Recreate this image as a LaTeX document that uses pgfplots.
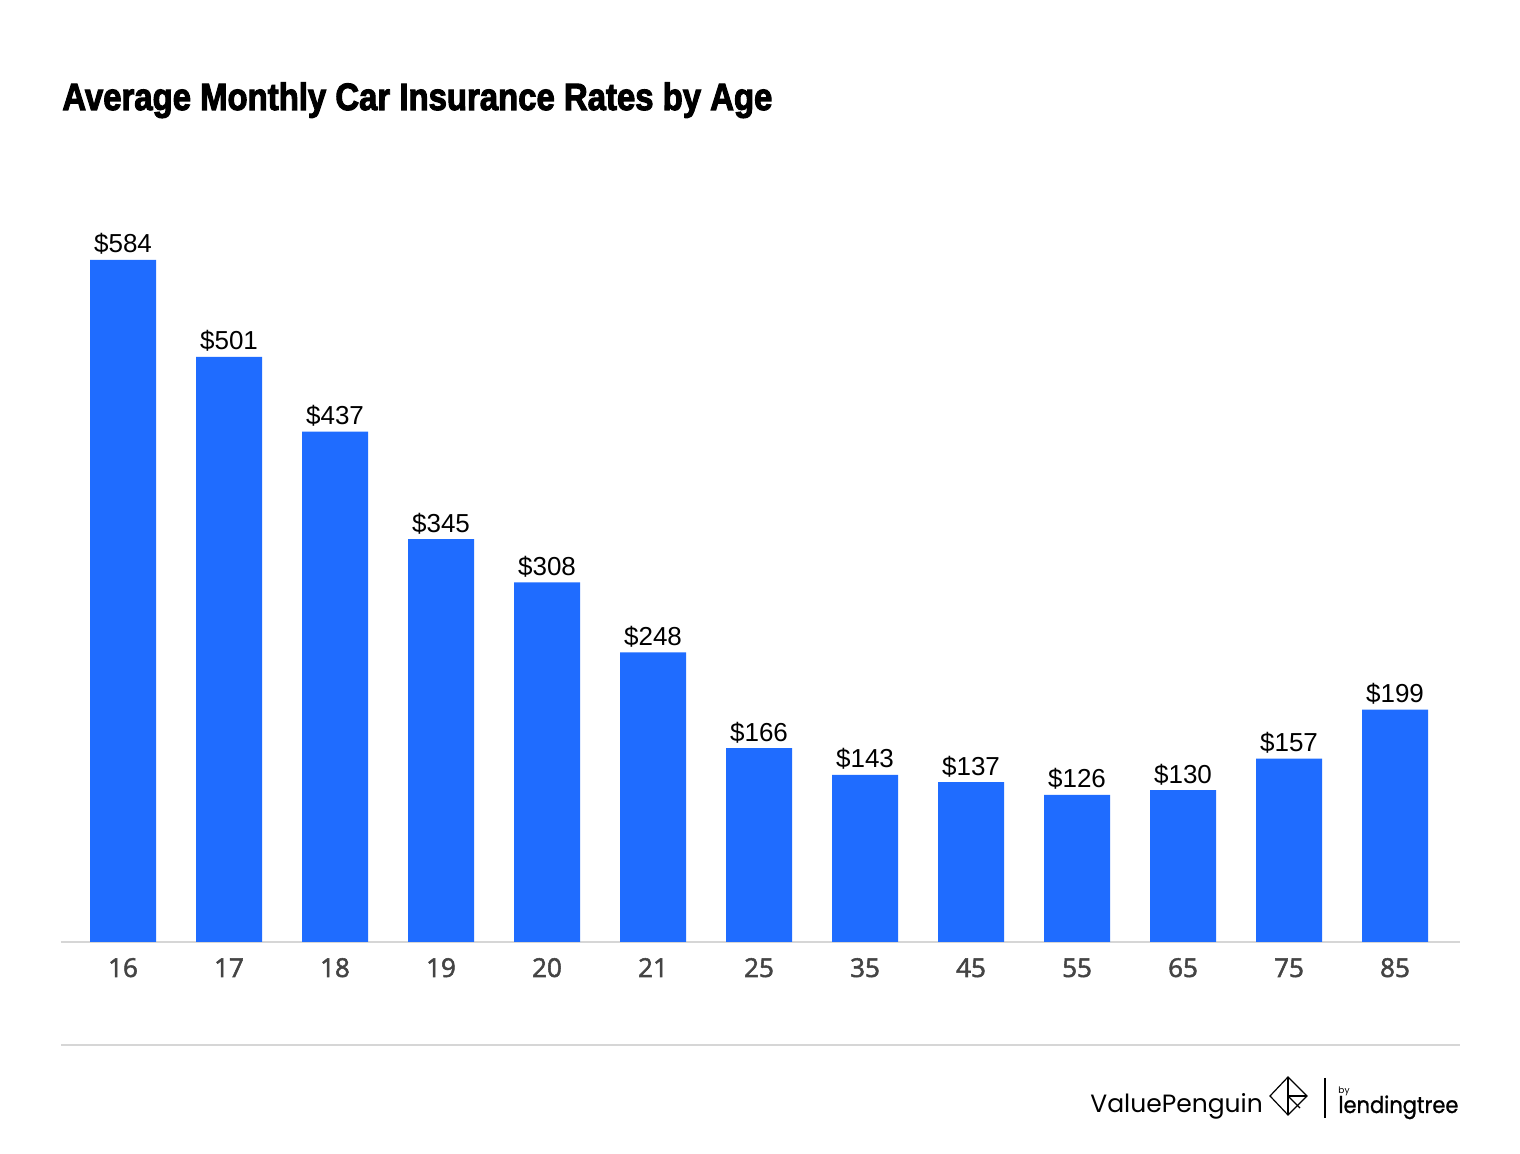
\documentclass[border=0pt]{standalone}
\usepackage{pgfplots}
\pgfplotsset{compat=1.18}
\usepackage{fontspec}
\setmainfont{Liberation Sans}
\newfontfamily\titlefont{Liberation Sans Bold}[FakeBold=3]
\newfontfamily\opensans{Open Sans}[FakeBold=2]
\newfontfamily\pop{Poppins}
\newfontfamily\popb{Poppins}[FakeBold=1]
\definecolor{barblue}{HTML}{1F6CFF}
\definecolor{ticktext}{HTML}{444444}
\definecolor{rulegray}{HTML}{D6D6D6}

\begin{document}
\begin{tikzpicture}
\useasboundingbox (0,0) rectangle (760pt,577pt);
\fill[white] (0,0) rectangle (760pt,577pt);

% title
\node[anchor=base west, inner sep=0pt] at (31pt,522pt)
  {\resizebox{355pt}{\height}{\titlefont\fontsize{19}{20}\selectfont Average Monthly Car Insurance Rates by Age}};

\begin{axis}[
  at={(30.5pt,106pt)}, anchor=south west,
  scale only axis,
  width=699.5pt, height=350.34pt,
  xmin=-0.585, xmax=12.613,
  ymin=0, ymax=600,
  axis y line=none,
  axis x line*=bottom,
  x axis line style={draw=rulegray, line width=1pt, -},
  major tick length=0pt,
  xtick=data,
  xticklabels={16,17,18,19,20,21,25,35,45,55,65,75,85},
  xticklabel style={font=\opensans\fontsize{13}{14}\selectfont, text=ticktext,
    anchor=base, inner sep=0pt, yshift=-17.5pt},
  ybar, bar width=33pt,
  /pgf/number format/assume math mode=true,
  nodes near coords={\$\pgfmathprintnumber{\pgfplotspointmeta}},
  nodes near coords style={font=\fontsize{13}{15}\selectfont, text=black,
    anchor=base, inner sep=0pt, yshift=3.5pt},
  clip=false,
]
\addplot[fill=barblue, draw=none] coordinates {
  (0,584) (1,501) (2,437) (3,345) (4,308) (5,248) (6,166)
  (7,143) (8,137) (9,126) (10,130) (11,157) (12,199)
};
\end{axis}

% bottom rule
\draw[rulegray, line width=1pt] (30.5pt,54.5pt) -- (730pt,54.5pt);

% logo
\node[anchor=base west, inner sep=0pt] at (545pt,20.5pt)
  {\pop\fontsize{12.5}{14}\selectfont ValuePenguin};
\begin{scope}[line width=0.6pt, black]
  \draw (644pt,38.5pt) -- (653.5pt,29pt) -- (644pt,19.5pt) -- (635pt,29pt) -- cycle;
  \draw (644pt,38.5pt) -- (644pt,19.5pt);
  \draw (644pt,29pt) -- (653.5pt,29pt);
  \draw (644pt,29pt) -- (650pt,23pt);
\end{scope}
\draw[black, line width=0.6pt] (662.5pt,38pt) -- (662.5pt,18pt);
\node[anchor=base west, inner sep=0pt] at (669pt,30pt)
  {\pop\fontsize{4.5}{5}\selectfont by};
\node[anchor=base west, inner sep=0pt] at (669pt,20.5pt)
  {\resizebox{60pt}{\height}{\popb\fontsize{11.5}{13}\selectfont lendingtree}};
\end{tikzpicture}
\end{document}
